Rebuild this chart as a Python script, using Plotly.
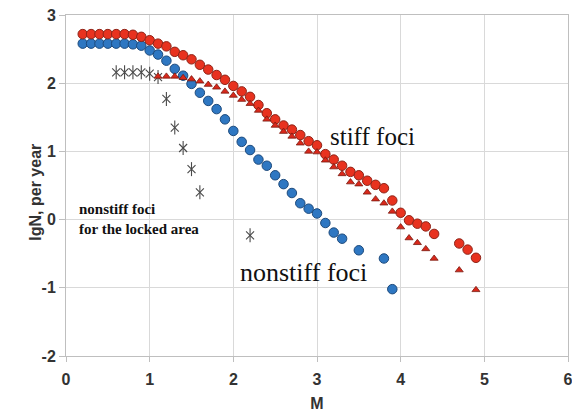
import plotly.graph_objects as go

# Stiff foci (red circles)
stiff_m = [0.2, 0.3, 0.4, 0.5, 0.6, 0.7, 0.8, 0.9, 1.0, 1.1, 1.2, 1.3, 1.4, 1.5, 1.6, 1.7,
           1.8, 1.9, 2.0, 2.1, 2.2, 2.3, 2.4, 2.5, 2.6, 2.7, 2.8, 2.9, 3.0, 3.1, 3.2, 3.3,
           3.4, 3.5, 3.6, 3.7, 3.8, 3.9, 4.0, 4.1, 4.2, 4.3, 4.4, 4.7, 4.8, 4.9]
stiff_lg = [2.72, 2.72, 2.72, 2.72, 2.72, 2.72, 2.71, 2.68, 2.63, 2.58, 2.54, 2.46, 2.41,
            2.35, 2.27, 2.20, 2.12, 2.05, 1.96, 1.88, 1.80, 1.68, 1.56, 1.47, 1.38, 1.32,
            1.24, 1.15, 1.09, 0.96, 0.88, 0.79, 0.70, 0.65, 0.57, 0.51, 0.46, 0.28, 0.10,
            -0.01, -0.06, -0.10, -0.21, -0.35, -0.44, -0.56]

# Stiff foci, second estimate (red triangles)
tri_m = [1.1, 1.2, 1.3, 1.4, 1.5, 1.6, 1.7, 1.8, 1.9, 2.0, 2.1, 2.2, 2.3, 2.4, 2.5, 2.6,
         2.7, 2.8, 2.9, 3.0, 3.1, 3.2, 3.3, 3.4, 3.5, 3.6, 3.7, 3.8, 3.9, 4.0, 4.1, 4.2,
         4.3, 4.4, 4.7, 4.9]
tri_lg = [2.10, 2.10, 2.10, 2.08, 2.06, 2.03, 1.98, 1.94, 1.88, 1.82, 1.76, 1.70, 1.60,
          1.47, 1.38, 1.29, 1.22, 1.12, 1.00, 0.99, 0.87, 0.77, 0.67, 0.55, 0.52, 0.40,
          0.30, 0.24, 0.12, -0.11, -0.27, -0.34, -0.43, -0.57, -0.74, -1.03]

# Nonstiff foci (blue circles)
nonstiff_m = [0.2, 0.3, 0.4, 0.5, 0.6, 0.7, 0.8, 0.9, 1.0, 1.1, 1.2, 1.3, 1.4, 1.5, 1.6,
              1.7, 1.8, 1.9, 2.0, 2.1, 2.2, 2.3, 2.4, 2.5, 2.6, 2.7, 2.8, 2.9, 3.0, 3.1,
              3.2, 3.3, 3.5, 3.8, 3.9]
nonstiff_lg = [2.58, 2.58, 2.58, 2.58, 2.58, 2.58, 2.57, 2.55, 2.48, 2.42, 2.33, 2.21, 2.11,
               1.99, 1.86, 1.74, 1.62, 1.47, 1.30, 1.14, 1.02, 0.88, 0.79, 0.65, 0.52, 0.39,
               0.24, 0.16, 0.09, -0.05, -0.19, -0.28, -0.45, -0.57, -1.02]

# Nonstiff foci for the locked area (asterisks)
locked_m = [0.6, 0.7, 0.8, 0.9, 1.0, 1.1, 1.2, 1.3, 1.4, 1.5, 1.6, 2.2]
locked_lg = [2.16, 2.16, 2.16, 2.16, 2.14, 2.09, 1.77, 1.35, 1.05, 0.74, 0.40, -0.23]

x_ticks = [0, 1, 2, 3, 4, 5, 6]
y_ticks = [-2, -1, 0, 1, 2, 3]

fig = go.Figure()

fig.add_trace(go.Scatter(
    x=locked_m, y=locked_lg, mode="markers", showlegend=False,
    marker=dict(symbol="x-thin-open", size=8, color="#4a4a4a",
                line=dict(color="#4a4a4a", width=1.1))))
fig.add_trace(go.Scatter(
    x=locked_m, y=locked_lg, mode="markers", showlegend=False,
    marker=dict(symbol="line-ns-open", size=10, color="#4a4a4a",
                line=dict(color="#4a4a4a", width=1.1))))

fig.add_trace(go.Scatter(
    x=nonstiff_m, y=nonstiff_lg, mode="markers", showlegend=False,
    marker=dict(symbol="circle", size=9.5, color="#2e77c2",
                line=dict(color="#1d4a7c", width=1))))

fig.add_trace(go.Scatter(
    x=stiff_m, y=stiff_lg, mode="markers", showlegend=False,
    marker=dict(symbol="circle", size=9.5, color="#e8321f",
                line=dict(color="#8e2418", width=1))))

fig.add_trace(go.Scatter(
    x=tri_m, y=tri_lg, mode="markers", showlegend=False,
    marker=dict(symbol="triangle-up", size=7, color="#d9281b",
                line=dict(color="#7a1a10", width=0.8))))

serif = "Liberation Serif, Times New Roman, serif"
sans = "Liberation Sans, Arial, sans-serif"
fig.add_annotation(x=3.66, y=1.22, text="stiff foci", showarrow=False,
                   font=dict(family=serif, size=25, color="#111111"))
fig.add_annotation(x=2.84, y=-0.78, text="nonstiff foci", showarrow=False,
                   font=dict(family=serif, size=26, color="#111111"))
fig.add_annotation(x=0.13, y=0.16, text="<b>nonstiff foci</b>", showarrow=False,
                   xanchor="left", font=dict(family=serif, size=15, color="#111111"))
fig.add_annotation(x=0.13, y=-0.14, text="<b>for the locked area</b>", showarrow=False,
                   xanchor="left", font=dict(family=serif, size=15, color="#111111"))
# y-axis title
fig.add_annotation(xref="paper", yref="paper", x=0, y=0.479, xshift=-30,
                   xanchor="center", yanchor="middle",
                   text="<b>lgN, per year</b>", textangle=-90, showarrow=False,
                   font=dict(family=sans, size=16, color="#333333"))

axis_font = dict(family=sans, size=16, color="#333333")
fig.update_xaxes(range=[0, 6], tickvals=x_ticks, ticktext=[f"<b>{v}</b>" for v in x_ticks],
                 showgrid=True, gridcolor="#d9d9d9", gridwidth=1,
                 showline=True, linecolor="#bfbfbf", linewidth=1, mirror=True,
                 ticks="outside", ticklen=5, tickcolor="#bfbfbf", ticklabelstandoff=4,
                 tickfont=axis_font, zeroline=False, automargin=False,
                 ticklabeloverflow="allow",
                 title=dict(text="<b>M</b>", font=dict(family=sans, size=16, color="#333333"),
                            standoff=10))
fig.update_yaxes(range=[-2, 3], tickvals=y_ticks, ticktext=[f"<b>{v}</b>" for v in y_ticks],
                 showgrid=True, gridcolor="#d9d9d9", gridwidth=1,
                 showline=True, linecolor="#bfbfbf", linewidth=1, mirror=True,
                 ticks="outside", ticklen=6, tickcolor="#bfbfbf",
                 tickfont=axis_font, zeroline=False, automargin=False,
                 ticklabeloverflow="allow")

fig.update_layout(width=572, height=413, margin=dict(l=66, r=4, t=15, b=57),
                  plot_bgcolor="white", paper_bgcolor="white", showlegend=False)

fig.write_html("out.html", config={"displayModeBar": False, "staticPlot": True},
               post_script="document.body.style.margin='0';document.body.style.overflow='hidden';")
